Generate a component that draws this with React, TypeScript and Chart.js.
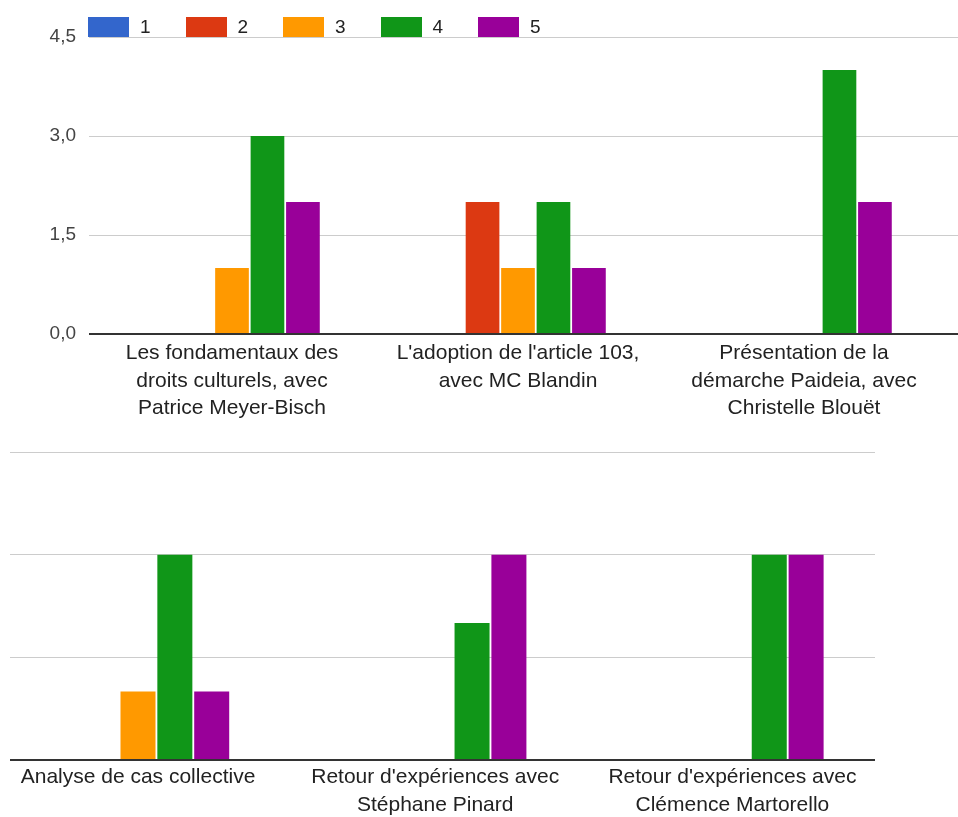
import React, { useEffect, useRef } from "react";
import { Chart, registerables } from "chart.js";

Chart.register(...registerables);

// ---- data ----
const seriesNames = ["1", "2", "3", "4", "5"];
const seriesColors = ["#3366cc", "#dc3912", "#ff9900", "#109618", "#990099"];

const topCategories: string[][] = [
  ["Les fondamentaux des", "droits culturels, avec", "Patrice Meyer-Bisch"],
  ["L'adoption de l'article 103,", "avec MC Blandin"],
  ["Présentation de la", "démarche Paideia, avec", "Christelle Blouët"],
];
const topS1 = [0, 0, 0];
const topS2 = [0, 2, 0];
const topS3 = [1, 1, 0];
const topS4 = [3, 2, 4];
const topS5 = [2, 1, 2];

const bottomCategories: string[][] = [
  ["Analyse de cas collective"],
  ["Retour d'expériences avec", "Stéphane Pinard"],
  ["Retour d'expériences avec", "Clémence Martorello"],
];
const botS1 = [0, 0, 0];
const botS2 = [0, 0, 0];
const botS3 = [1, 0, 0];
const botS4 = [3, 2, 3];
const botS5 = [1, 3, 3];

const yMin = 0;
const yMax = 4.5;
const yStep = 1.5;

const FONT = "'Liberation Sans', Arial, Helvetica, sans-serif";
const GRID = "#cccccc";
const BASE = "#333333";

const extendGrid = {
  id: "extendGrid",
  afterDraw(chart: any, _args: any, opts: any) {
    if (!opts || !opts.enabled) return;
    const y = chart.scales.y;
    const ctx = chart.ctx;
    ctx.save();
    y.ticks.forEach((t: any) => {
      const py = y.getPixelForValue(t.value);
      const base = t.value === 0;
      ctx.strokeStyle = base ? BASE : GRID;
      ctx.lineWidth = base ? 2 : 1;
      ctx.beginPath();
      const yy = base ? Math.round(py) : Math.round(py) + 0.5;
      ctx.moveTo(chart.chartArea.right, yy);
      ctx.lineTo(chart.width, yy);
      ctx.stroke();
    });
    ctx.restore();
  },
};

function makeConfig(
  labels: string[][],
  series: number[][],
  opts: { showY: boolean; padding: any; xHeight: number; yWidth: number; extend: boolean; xPad: number }
): any {
  return {
    type: "bar",
    data: {
      labels,
      datasets: series.map((vals, i) => ({
        label: seriesNames[i],
        data: vals,
        backgroundColor: seriesColors[i],
        borderWidth: 0,
        categoryPercentage: 0.62,
        barPercentage: 0.95,
      })),
    },
    options: {
      responsive: false,
      animation: false,
      layout: { padding: opts.padding },
      plugins: {
        legend: { display: false },
        tooltip: { enabled: false },
        extendGrid: { enabled: opts.extend },
      },
      scales: {
        x: {
          grid: { display: false, drawTicks: false },
          border: { display: false },
          ticks: {
            autoSkip: false,
            maxRotation: 0,
            minRotation: 0,
            padding: opts.xPad,
            color: "#222222",
            font: { family: FONT, size: 21, lineHeight: 1.3 },
          },
          afterFit(scale: any) {
            scale.height = opts.xHeight;
          },
        },
        y: {
          min: yMin,
          max: yMax,
          border: { display: false },
          grid: {
            drawTicks: false,
            color: (c: any) => (c.tick && c.tick.value === 0 ? BASE : GRID),
            lineWidth: (c: any) => (c.tick && c.tick.value === 0 ? 2 : 1),
          },
          ticks: {
            display: opts.showY,
            stepSize: yStep,
            padding: 13,
            color: "#444444",
            font: { family: FONT, size: 19 },
            callback: (v: any) => Number(v).toFixed(1).replace(".", ","),
          },
          afterFit(scale: any) {
            scale.width = opts.yWidth;
          },
        },
      },
    },
    plugins: [extendGrid],
  };
}

function BarCanvas(props: { width: number; height: number; config: any; style?: any }) {
  const ref = useRef<HTMLCanvasElement | null>(null);
  useEffect(() => {
    if (!ref.current) return;
    const chart = new Chart(ref.current, props.config);
    return () => chart.destroy();
  }, []);
  return (
    <canvas
      ref={ref}
      width={props.width}
      height={props.height}
      style={{ width: props.width, height: props.height, display: "block", ...(props.style || {}) }}
    />
  );
}

export default function App() {
  const topConfig = makeConfig(topCategories, [topS1, topS2, topS3, topS4, topS5], {
    showY: true,
    padding: { top: 37, left: 0, right: 11, bottom: 0 },
    xHeight: 106,
    yWidth: 89,
    extend: true,
    xPad: 6,
  });
  const bottomConfig = makeConfig(bottomCategories, [botS1, botS2, botS3, botS4, botS5], {
    showY: false,
    padding: { top: 12, left: 19.4, right: 49, bottom: 0 },
    xHeight: 57,
    yWidth: 0,
    extend: false,
    xPad: 4,
  });

  const legendLeft = 88;
  const legendStep = 97.5;

  return (
    <div
      style={{
        position: "fixed",
        left: 0,
        top: 0,
        width: 958,
        height: 817,
        background: "#ffffff",
        overflow: "hidden",
        fontFamily: FONT,
      }}
    >
      <div style={{ position: "absolute", left: 0, top: 0 }}>
        <BarCanvas width={958} height={440} config={topConfig} />
      </div>
      {seriesNames.map((name, i) => (
        <div
          key={name}
          style={{
            position: "absolute",
            left: legendLeft + i * legendStep,
            top: 16,
            height: 21,
            display: "flex",
            alignItems: "center",
          }}
        >
          <div style={{ width: 41, height: 20, background: seriesColors[i] }} />
          <div
            style={{
              marginLeft: 11,
              fontSize: 19,
              color: "#222222",
              lineHeight: "21px",
              background: "#ffffff",
              paddingRight: 2,
            }}
          >
            {name}
          </div>
        </div>
      ))}
      <div
        style={{
          position: "absolute",
          left: 10,
          top: 440,
          width: 865,
          height: 377,
          overflow: "hidden",
        }}
      >
        <div style={{ position: "absolute", left: -40, top: 0 }}>
          <BarCanvas width={960} height={377} config={bottomConfig} />
        </div>
      </div>
    </div>
  );
}
